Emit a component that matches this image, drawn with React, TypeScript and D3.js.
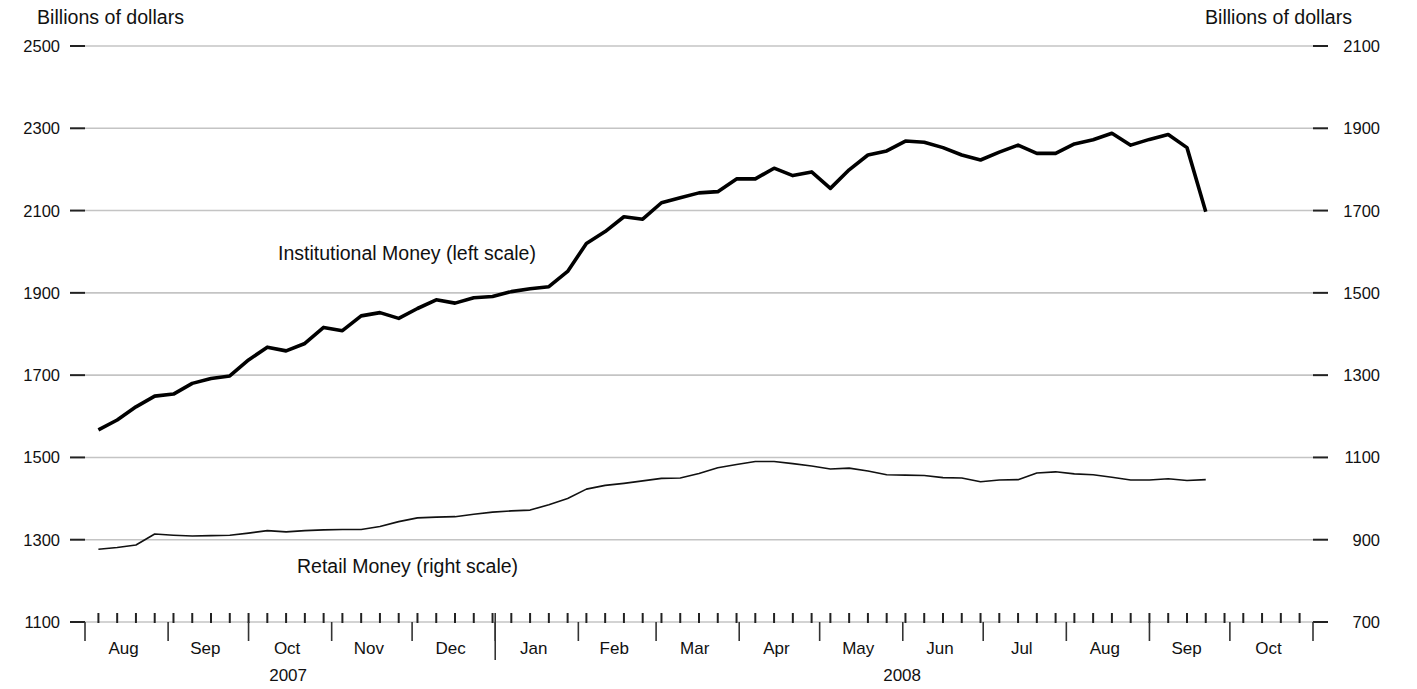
import React from "react";
import * as d3 from "d3";

const dates: string[] = [
  "2007-08-06","2007-08-13","2007-08-20","2007-08-27",
  "2007-09-03","2007-09-10","2007-09-17","2007-09-24",
  "2007-10-01","2007-10-08","2007-10-15","2007-10-22","2007-10-29",
  "2007-11-05","2007-11-12","2007-11-19","2007-11-26",
  "2007-12-03","2007-12-10","2007-12-17","2007-12-24","2007-12-31",
  "2008-01-07","2008-01-14","2008-01-21","2008-01-28",
  "2008-02-04","2008-02-11","2008-02-18","2008-02-25",
  "2008-03-03","2008-03-10","2008-03-17","2008-03-24","2008-03-31",
  "2008-04-07","2008-04-14","2008-04-21","2008-04-28",
  "2008-05-05","2008-05-12","2008-05-19","2008-05-26",
  "2008-06-02","2008-06-09","2008-06-16","2008-06-23","2008-06-30",
  "2008-07-07","2008-07-14","2008-07-21","2008-07-28",
  "2008-08-04","2008-08-11","2008-08-18","2008-08-25",
  "2008-09-01","2008-09-08","2008-09-15","2008-09-22",
];

const institutional: number[] = [
  1567, 1591, 1623, 1649, 1654, 1680, 1692, 1698, 1737, 1768,
  1759, 1777, 1816, 1808, 1844, 1852, 1838, 1862, 1883, 1875,
  1888, 1891, 1903, 1910, 1915, 1952, 2020, 2049, 2085, 2079,
  2119, 2131, 2143, 2146, 2177, 2177, 2203, 2185, 2194, 2154,
  2199, 2235, 2245, 2269, 2266, 2253, 2235, 2223, 2242, 2259,
  2239, 2239, 2262, 2272, 2288, 2259, 2273, 2285, 2253, 2097,
];

const retail: number[] = [
  877, 881, 887, 914, 911, 909, 910, 911, 916, 922,
  919, 922, 924, 925, 925, 932, 944, 953, 955, 956,
  962, 967, 970, 972, 985, 1000, 1023, 1032, 1037, 1043,
  1049, 1050, 1061, 1075, 1083, 1090, 1090, 1085, 1079, 1072,
  1074, 1067, 1058, 1057, 1056, 1051, 1050, 1041, 1045, 1046,
  1062, 1065, 1060, 1058, 1052, 1045, 1045, 1048, 1044, 1046,
];

const leftTicks: number[] = [1100, 1300, 1500, 1700, 1900, 2100, 2300, 2500];
const rightTicks: number[] = [700, 900, 1100, 1300, 1500, 1700, 1900, 2100];
const monthLabels: string[] = ["Aug","Sep","Oct","Nov","Dec","Jan","Feb","Mar","Apr","May","Jun","Jul","Aug","Sep","Oct"];
const yearLabels: string[] = ["2007", "2008"];

const W = 1417;
const H = 689;
const X0 = 85;
const X1 = 1313;
const YTOP = 46;
const YBOT = 622;
const FONT = "'Liberation Sans', Arial, Helvetica, sans-serif";

export default function App() {
  const parse = d3.timeParse("%Y-%m-%d");
  const ds = dates.map((d) => parse(d) as Date);
  const start = new Date(2007, 7, 1);
  const end = new Date(2008, 10, 1);
  const x = d3.scaleTime().domain([start, end]).range([X0, X1]);
  const yL = d3.scaleLinear().domain([1100, 2500]).range([YBOT, YTOP]);
  const yR = d3.scaleLinear().domain([700, 2100]).range([YBOT, YTOP]);

  const lineL = d3
    .line<number>()
    .x((_, i) => x(ds[i]))
    .y((v) => yL(v));
  const lineR = d3
    .line<number>()
    .x((_, i) => x(ds[i]))
    .y((v) => yR(v));

  const months = d3.timeMonth.range(start, d3.timeDay.offset(end, 1));
  const weeks = d3.timeMonday.range(start, end);
  const years = [new Date(2007, 7, 1), new Date(2008, 0, 1), end];

  return (
    <svg width={W} height={H} style={{ position: "absolute", left: 0, top: 0 }} fontFamily={FONT}>
      <rect width={W} height={H} fill="#fff" />
      <text x={37} y={24} fontSize={19.6} fill="#111">Billions of dollars</text>
      <text x={1352} y={24} fontSize={19.6} fill="#111" textAnchor="end">Billions of dollars</text>

      {leftTicks.map((t) => (
        <g key={"g" + t}>
          <line x1={X0} x2={X1} y1={yL(t)} y2={yL(t)} stroke="#c4c4c4" strokeWidth={1.6} />
          <line x1={70} x2={X0} y1={yL(t)} y2={yL(t)} stroke="#222" strokeWidth={2} />
          <text x={60} y={yL(t) + 6} fontSize={16.5} textAnchor="end" fill="#111">{t}</text>
        </g>
      ))}
      {rightTicks.map((t) => (
        <g key={"r" + t}>
          <line x1={X1} x2={1328} y1={yR(t)} y2={yR(t)} stroke="#222" strokeWidth={2} />
          <text x={1380} y={yR(t) + 6} fontSize={16.5} textAnchor="end" fill="#111">{t}</text>
        </g>
      ))}

      {weeks.map((w, i) => (
        <line key={"w" + i} x1={x(w)} x2={x(w)} y1={613} y2={623} stroke="#222" strokeWidth={2} />
      ))}
      {months.map((m, i) => (
        <line key={"m" + i} x1={x(m)} x2={x(m)} y1={622} y2={641} stroke="#333" strokeWidth={1.6} />
      ))}
      <line x1={x(years[1])} x2={x(years[1])} y1={613} y2={660} stroke="#333" strokeWidth={1.6} />

      {months.slice(0, -1).map((m, i) => {
        const nx = months[i + 1];
        return (
          <text key={"ml" + i} x={(x(m) + x(nx)) / 2 - 3} y={654} fontSize={17} textAnchor="middle" fill="#111">
            {monthLabels[i]}
          </text>
        );
      })}
      {yearLabels.map((yl, i) => (
        <text key={"y" + i} x={(x(years[i]) + x(years[i + 1])) / 2 - 2} y={681} fontSize={17} textAnchor="middle" fill="#111">
          {yl}
        </text>
      ))}

      <path d={lineR(retail) || ""} fill="none" stroke="#111" strokeWidth={1.6} strokeLinejoin="round" />
      <path d={lineL(institutional) || ""} fill="none" stroke="#000" strokeWidth={3.6} strokeLinejoin="round" />

      <text x={278} y={260} fontSize={19.5} fill="#111">Institutional Money (left scale)</text>
      <text x={297} y={573} fontSize={19.5} fill="#111">Retail Money (right scale)</text>
    </svg>
  );
}
